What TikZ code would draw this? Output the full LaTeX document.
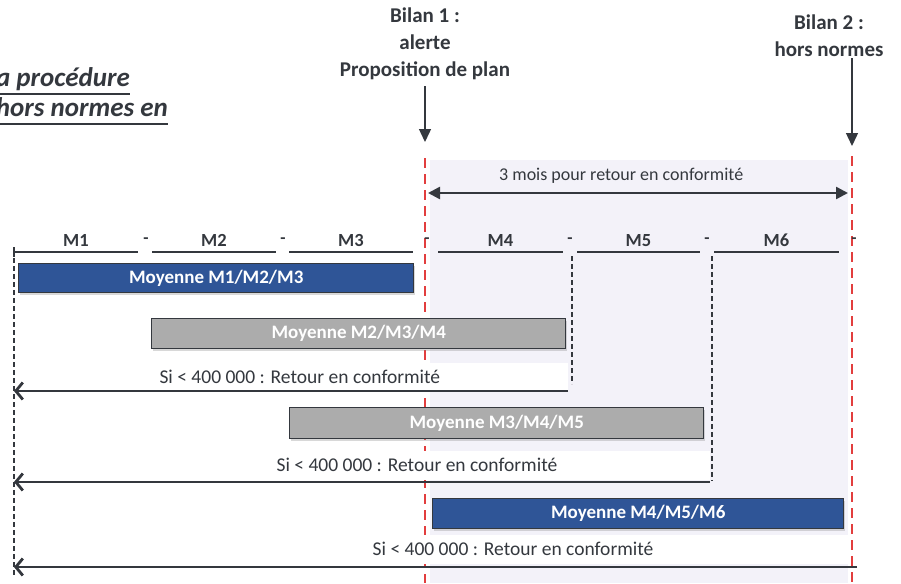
\documentclass[tikz,border=0pt]{standalone}
\usepackage{fontspec}
\setmainfont{Carlito}
\usetikzlibrary{arrows.meta,shadows,positioning}

\definecolor{barblue}{RGB}{47,85,151}
\definecolor{bargray}{RGB}{172,172,172}
\definecolor{ink}{RGB}{52,56,62}
\definecolor{alertred}{RGB}{226,62,62}
\definecolor{lavender}{RGB}{243,242,249}

\tikzset{
  bar/.style={draw=ink, line width=1.4pt, text=white, anchor=north west, inner sep=0pt,
    font=\bfseries\fontsize{19}{19}\selectfont,
    drop shadow={shadow xshift=1.5pt, shadow yshift=-2pt, opacity=0.3}},
  bluebar/.style={bar, fill=barblue},
  graybar/.style={bar, fill=bargray},
  titletext/.style={text=ink, inner sep=0pt, font=\bfseries\itshape\fontsize{27}{27}\selectfont},
  bilan/.style={text=ink, align=center, inner sep=0pt, font=\bfseries\fontsize{21}{27}\selectfont},
  monthline/.style={ink, line width=1.6pt},
  monthlabel/.style={text=ink, inner sep=0pt, font=\bfseries\fontsize{18.5}{18.5}\selectfont},
  separator/.style={text=ink, inner sep=0pt, font=\bfseries\fontsize{17}{17}\selectfont},
  redline/.style={alertred, line width=2.8pt, dash pattern=on 10pt off 6pt},
  guide/.style={ink, line width=1.3pt, dash pattern=on 5pt off 3pt},
  downarrow/.style={ink, line width=1.4pt, -{Triangle[length=13pt,width=12pt]}},
  spanarrow/.style={ink, line width=2.5pt, {Triangle[length=12pt,width=12pt]}-{Triangle[length=12pt,width=12pt]}},
  backarrow/.style={ink, line width=2.8pt, -{Straight Barb[length=7pt,width=17pt]}},
  windowlabel/.style={text=ink, inner sep=0pt, font=\fontsize{18}{18}\selectfont},
  retlabel/.style={text=ink, inner sep=0pt, font=\fontsize{19.5}{19.5}\selectfont}
}

\begin{document}
\begin{tikzpicture}[x=1pt,y=-1pt]
\useasboundingbox (0,0) rectangle (901,583);
\clip (0,0) rectangle (901,583);
\fill[white] (0,0) rectangle (901,583);

% 3-month window
\fill[lavender] (430,160) rectangle (848,583);

% title, cut at the left edge
\node[titletext, anchor=base east] (title1) at (130,87) {a procédure};
\node[titletext, anchor=base east] (title2) at (168,117) {hors normes en};
\foreach \t in {title1,title2}
  \draw[ink, line width=1.5pt] ([yshift=-7pt]\t.base west -| 0,0) -- ([yshift=-7pt]\t.base east);

% Bilan markers
\coordinate (bilan1pt) at (425,158);
\coordinate (bilan2pt) at (852,156);
\draw[redline] (bilan1pt) -- ++(0,425);
\draw[redline] (bilan2pt) -- ++(0,427);

\node[bilan, anchor=north] (bilan1) at (425,8) {Bilan 1 :\\alerte\\Proposition de plan};
\node[bilan, anchor=north] (bilan2) at (829,15) {Bilan 2 :\\hors normes};
\coordinate (b2start) at (bilan2.south -| bilan2pt);
\draw[downarrow] ([yshift=-6pt]bilan1.south) -- ([yshift=16pt]bilan1pt);
\draw[downarrow] ([yshift=-1pt]b2start) -- ([yshift=10pt]bilan2pt);

% 3 months
\coordinate (win1) at (428,193);
\coordinate (win2) at (848,193);
\draw[spanarrow] (win1) -- (win2)
  node[windowlabel, pos=0.46, above=8pt] (window) {3 mois pour retour en conformité};

% months
\foreach \n/\a/\b in {1/14/138, 2/152/276, 3/289/413, 4/438/563, 5/577/700, 6/714/839}
  \draw[monthline] (\a,252) -- (\b,252) node[monthlabel, midway, above=5pt] (m\n) {M\n};
\draw[monthline] (14,247) -- (14,257);
\foreach \i/\x in {1/146, 2/283, 3/427, 4/570, 5/707, 6/854}
  \node[separator] (sep\i) at (\x,241) {-};

% rolling averages
\node[bluebar, minimum width=395pt, minimum height=29pt] (avg123) at (18,263) {Moyenne M1/M2/M3};
\node[graybar, minimum width=414pt, minimum height=30pt] (avg234) at (151,318) {Moyenne M2/M3/M4};
\node[graybar, minimum width=414pt, minimum height=31pt] (avg345) at (289,407) {Moyenne M3/M4/M5};
\node[bluebar, minimum width=411pt, minimum height=30pt] (avg456) at (432,498) {Moyenne M4/M5/M6};

% label boxes
\fill[white] (14,363) rectangle (568,390);
\fill[white] (14,451) rectangle (710,480);
\fill[white] (14,535) rectangle (848,564);

% back to conformity
\coordinate (home) at (14,258);
\coordinate (ret1) at (568,391);
\coordinate (ret2) at (710,482);
\coordinate (ret3) at (857,567);
\draw[guide] (home) -- (14,576);
\draw[guide] (572,256) -- (572,384);
\draw[guide] (712,256) -- (712,481);

\draw[backarrow] (ret1) -- (ret1 -| home)
  node[retlabel, pos=0.484, above=6pt] (cond1) {Si < 400 000 : Retour en conformité};
\draw[backarrow] (ret2) -- (ret2 -| home)
  node[retlabel, pos=0.421, above=9pt] (cond2) {Si < 400 000 : Retour en conformité};
\draw[backarrow] (ret3) -- (ret3 -| home)
  node[retlabel, pos=0.408, above=10pt] (cond3) {Si < 400 000 : Retour en conformité};
\end{tikzpicture}
\end{document}
